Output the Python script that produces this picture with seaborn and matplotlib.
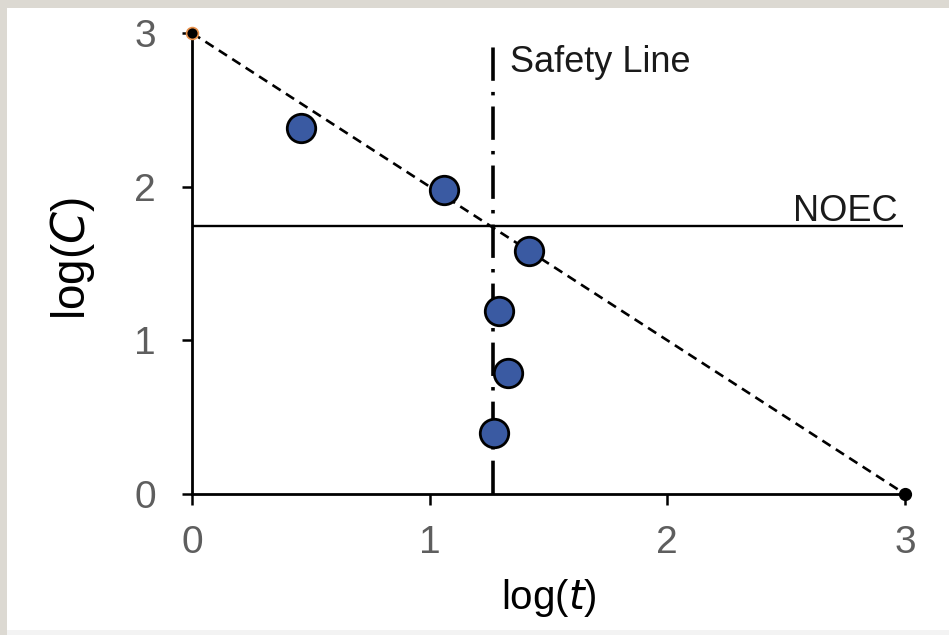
import matplotlib
matplotlib.use("Agg")
import matplotlib.pyplot as plt
import seaborn as sns
import pandas as pd
from matplotlib.patches import Rectangle

# ---- data ----
log_t = [0.46, 1.06, 1.42, 1.29, 1.33, 1.27]
log_c = [2.38, 1.98, 1.58, 1.19, 0.79, 0.40]
trend_x = [0.0, 3.0]
trend_y = [3.0, 0.0]
noec_level = 1.745
safety_x = 1.266
safety_top = 2.92
x_ticks = [0, 1, 2, 3]
y_ticks = [0, 1, 2, 3]

sns.set_theme(style="white")
plt.rcParams["font.family"] = ["Liberation Sans", "DejaVu Sans"]
plt.rcParams["lines.scale_dashes"] = False

fig = plt.figure(figsize=(9.49, 6.35), dpi=100)
fig.patch.set_facecolor("#dcd9d2")
fig.patches.append(Rectangle((7 / 949, 5 / 635), 1 - 7 / 949, 1 - 13 / 635,
                             transform=fig.transFigure, facecolor="white",
                             edgecolor="none", zorder=-10))
fig.patches.append(Rectangle((7 / 949, 0), 1 - 7 / 949, 5 / 635,
                             transform=fig.transFigure, facecolor="#f3f3f3",
                             edgecolor="none", zorder=-10))

ax = fig.add_axes([192 / 949, 1 - 494 / 635, 713 / 949, 461 / 635])
ax.set_facecolor("none")
ax.set_zorder(1)

# trend (dashed) line
trend_df = pd.DataFrame({"x": trend_x, "y": trend_y})
ax.plot(trend_df["x"], trend_df["y"], color="black", lw=1.9,
        dashes=(7, 4.5), zorder=2, clip_on=False)

# NOEC line
ax.plot([0, 2.99], [noec_level, noec_level], color="black", lw=1.7, zorder=2,
        solid_capstyle="butt")

# safety line
ax.plot([safety_x, safety_x], [0, safety_top], color="black", lw=2.6,
        dashes=(24, 8, 2.5, 8), zorder=2, clip_on=False)

# data points
pts = pd.DataFrame({"log_t": log_t, "log_c": log_c})
sns.scatterplot(data=pts, x="log_t", y="log_c", ax=ax, s=420,
                color="#3a5aa2", edgecolor="black", linewidth=2.0,
                zorder=4, clip_on=False)

# endpoint dots
ax.plot([trend_x[0]], [trend_y[0]], "o", ms=8.5, color="black",
        mec="#e8904a", mew=1.2, zorder=5, clip_on=False)
ax.plot([trend_x[1]], [trend_y[1]], "o", ms=8.5, color="black",
        mec="black", zorder=5, clip_on=False)

# annotations
ax.text(1.338, 2.745, "Safety Line", fontsize=26, color="#1a1a1a",
        ha="left", va="baseline")
ax.text(2.97, 1.776, "NOEC", fontsize=26, color="#1a1a1a",
        ha="right", va="baseline")

ax.set_xlim(0, 3)
ax.set_ylim(0, 3)
ax.set_xticks(x_ticks)
ax.set_yticks(y_ticks)
ax.set_xticklabels([str(v) for v in x_ticks])
ax.set_yticklabels([str(v) for v in y_ticks])

for side in ["top", "right"]:
    ax.spines[side].set_visible(False)
for side in ["left", "bottom"]:
    ax.spines[side].set_color("black")
    ax.spines[side].set_linewidth(2.0)

ax.tick_params(axis="x", direction="out", length=8, width=1.8, color="black",
               labelsize=28, labelcolor="#5e5e5e", pad=14, bottom=True)
ax.tick_params(axis="y", direction="out", length=7, width=1.8, color="black",
               labelsize=28, labelcolor="#5e5e5e", pad=19, left=True)

ax.set_xlabel(r"log($\it{t}$)", fontsize=29, color="black")
ax.set_ylabel(r"log($\it{C}$)", fontsize=33, color="black")
ax.xaxis.set_label_coords(0.5, -0.226)
ax.xaxis.label.set_va("center")
ax.yaxis.set_label_coords(-0.167, 0.511)
ax.yaxis.label.set_va("center")

fig.savefig("out.png", dpi=100, facecolor=fig.get_facecolor())
